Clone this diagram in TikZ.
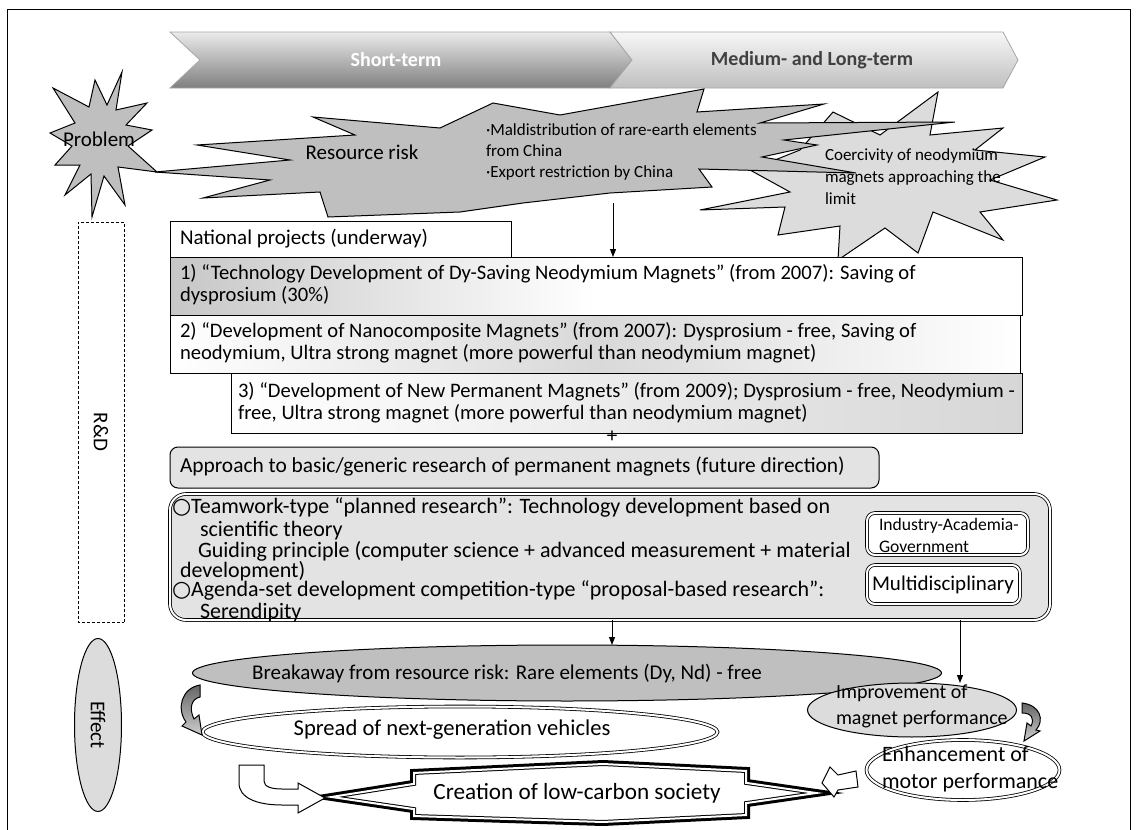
\documentclass[tikz,border=0pt]{standalone}
\usepackage{fontspec}
\setmainfont{Carlito}
\newfontfamily\djv{DejaVu Sans}
\usetikzlibrary{shapes.geometric,fit,arrows.meta}
\definecolor{gA}{HTML}{BFBFBF}
\definecolor{gB}{HTML}{DCDCDC}
\definecolor{gC}{HTML}{E3E3E3}
\newcommand\crpath{(325,797) -- (413,783) -- (413,772) -- (603,763) -- (747,770) -- (747,782) -- (823,793) -- (747,804) -- (747,816) -- (603,823) -- (413,817) -- (413,810) -- cycle}
\begin{document}
\begin{tikzpicture}[x=0.5pt,y=-0.5pt,line width=0.5pt,
 every node/.style={inner sep=0pt,outer sep=0pt},
 mf/.style={font=\fontsize{10.5}{11}\selectfont},
 bf/.style={font=\fontsize{10.3}{11}\selectfont},
 kf/.style={font=\fontsize{11}{12}\selectfont},
 sf/.style={font=\fontsize{8.5}{10.5}\selectfont},
 tl/.style={mf,align=left,anchor=north west},
 rbox/.style={draw,inner sep=0pt},
 arr/.style={-{Triangle[length=4pt,width=3pt]}},
 dbl/.style={draw,double=white,double distance=1pt,line width=0.4pt},
 star/.style={draw,line width=0.5pt,line join=miter},
 bar/.style={draw=black!35,line width=0.4pt},
 bartext/.style={font=\fontsize{10}{12}\selectfont\bfseries}]
\useasboundingbox (0,0) rectangle (1137,830);
\draw (7,830) -- (7,9) -- (1130,9) -- (1130,830);

% time banners
\path[bar,top color=black!8,bottom color=black!50] (170,32) -- (610,32) -- (632,60) -- (610,88) -- (170,88) -- (200,60) -- cycle;
\path[bar,top color=black!3,bottom color=black!25] (610,32) -- (1003,32) -- (1018,60) -- (1003,88) -- (610,88) -- (632,60) -- cycle;
\node[bartext,text=white] (st) at (396,60) {Short-term};
\node[bartext,text=black!75] (mt) at (812,60) {Medium- and Long-term};

% problem star
\path[star,fill=gA] (122,72) -- (116,110) -- (147,103) -- (126,125) -- (152,130) -- (128,146) -- (157,172) -- (118,167) -- (125,205) -- (104,176) -- (92,217) -- (91,174) -- (65,195) -- (80,165) -- (55,165) -- (72,146) -- (50,133) -- (75,123) -- (53,88) -- (89,107) -- (95,80) -- (107,105) -- cycle;
\node[mf] (pb) at (99,139) {Problem};

% coercivity star
\path[star,fill=gB] (938,92) -- (930,135) -- (1003,128) -- (975,150) -- (1045,157) -- (990,180) -- (1057,200) -- (980,212) -- (1003,240) -- (933,212) -- (918,253) -- (885,228) -- (838,260) -- (840,226) -- (778,235) -- (785,207) -- (700,210) -- (790,192) -- (750,170) -- (800,150) -- (833,112) -- (880,135) -- cycle;

% resource risk star
\path[star,fill=gA] (155,172) -- (290,160) -- (197,145) -- (355,135) -- (313,117) -- (440,128) -- (493,103) -- (560,115) -- (704,89) -- (697,112) -- (824,104) -- (760,123) -- (955,122) -- (784,140) -- (817,145) -- (762,157) -- (856,173) -- (699,169) -- (712,187) -- (610,193) -- (523,203) -- (460,212) -- (328,217) -- (320,192) -- (203,198) -- (270,180) -- cycle;
\node[mf] (rrt) at (362,152) {Resource risk};
\node[sf,align=left,anchor=north west] (rrd) at (486,124) {·Maldistribution of rare-earth elements\\from China\\·Export restriction by China};
\node[align=left,anchor=north west,font=\fontsize{8.5}{11}\selectfont] (coe) at (825,149) {Coercivity of neodymium\\magnets approaching the\\limit};

% R&D column
\node[draw,dash pattern=on 1.5pt off 1pt,line width=0.4pt,minimum width=200pt,minimum height=23pt,rotate=-90,mf] (rd) at (101,422) {};
\node[mf,rotate=-90] (rdt) at (101,432) {R\&D};

% national projects
\node[rbox,fill=white,fit={(170,221)(511,257)}] (np) {};
\node[mf,anchor=west] (npt) at (180,239) {National projects (underway)};
\node[rbox,left color=black!22,right color=white,middle color=white,fit={(170,257)(1022,315)}] (b1) {};
\node[tl,bf] (b1t) at (180,264) {1) “Technology Development of Dy-Saving Neodymium Magnets” (from 2007): Saving of\\dysprosium (30\%)};
\node[rbox,left color=white,right color=white,middle color=black!15,fit={(170,315)(1020,373)}] (b2) {};
\node[tl,bf] (b2t) at (180,322) {2) “Development of Nanocomposite Magnets” (from 2007): Dysprosium - free, Saving of\\neodymium, Ultra strong magnet (more powerful than neodymium magnet)};
\node[rbox,left color=white,right color=black!16,fit={(231,373)(1022,433)}] (b3) {};
\node[tl,bf] (b3t) at (238,382) {3) “Development of New Permanent Magnets” (from 2009); Dysprosium - free, Neodymium -\\free, Ultra strong magnet (more powerful than neodymium magnet)};
\coordinate (rr) at (613,203);
\draw[arr] (rr) -- (rr |- b1.north);
\node[mf] (plus) at (612,437) {+};

% basic research
\node[rbox,fill=gC,rounded corners=4pt,fit={(170,447)(879,488)}] (ap) {};
\node[font=\fontsize{10.7}{12}\selectfont,anchor=west] (apt) at (180,467) {Approach to basic/generic research of permanent magnets (future direction)};
\node[dbl,fill=gC,rounded corners=8pt,fit={(170,494)(1050,620)}] (big) {};
\node[tl,kf] (t1) at (172,498) {{\djv ○}Teamwork-type “planned research”: Technology development based on};
\node[tl,kf] (t2) at (200,521) {scientific theory};
\node[tl,kf] (t3) at (198,541) {Guiding principle (computer science + advanced measurement + material};
\node[tl,kf] (t4) at (180,561) {development)};
\node[tl,kf] (t5) at (172,581) {{\djv ○}Agenda-set development competition-type “proposal-based research”:};
\node[tl,kf] (t6) at (200,603) {Serendipity};
\node[dbl,fill=white,rounded corners=4pt,fit={(867,513)(1028,555)}] (iag) {};
\node[align=left,anchor=north west,font=\fontsize{8.8}{11}\selectfont] (iagt) at (879,518) {Industry-Academia-\\Government};
\node[dbl,fill=white,rounded corners=4pt,fit={(867,565)(1020,604)}] (mul) {};
\node[mf] (mult) at (943,585) {Multidisciplinary};

% effects
\node[ellipse,draw,fill=gB,minimum width=86.5pt,minimum height=23.5pt,rotate=-90,mf] (eff) at (98,725) {Effect};
\node[ellipse,draw,fill=gA,minimum width=374.5pt,minimum height=28pt] (brk) at (567,673) {};
\node[mf] (brkt) at (507,674) {Breakaway from resource risk: Rare elements (Dy, Nd) - free};
\node[ellipse,draw,fill=gB,minimum width=104.5pt,minimum height=27pt] (imp) at (912,710) {};
\node[tl,font=\fontsize{10}{13}\selectfont] (impt) at (836,685) {Improvement of\\magnet performance};
\node[ellipse,dbl,fill=white,minimum width=257.5pt,minimum height=25.5pt] (spr) at (460,732) {};
\node[font=\fontsize{11.3}{12}\selectfont] (sprt) at (452,730) {Spread of next-generation vehicles};
\node[ellipse,dbl,fill=white,minimum width=96.5pt,minimum height=30pt] (enh) at (963,770) {};
\node[tl,font=\fontsize{11}{13.5}\selectfont] (enht) at (882,746) {Enhancement of\\motor performance};

\coordinate (d1) at (612,620);
\coordinate (d2) at (960,620);
\draw[arr] (big.south -| d1) -- (brk.north -| d1);
\draw[arr] (big.south -| d2) -- (imp.north -| d2);

% creation of low-carbon society
\fill[white] \crpath;
\draw[line width=3pt,line join=miter] \crpath;
\begin{scope}
\clip \crpath;
\draw[white,line width=2pt] \crpath;
\end{scope}
\node[font=\fontsize{11.6}{12}\selectfont] (cr) at (577,793) {Creation of low-carbon society};

% block arrows
\path[draw,fill=white] (239,765) -- (264,765) -- (264,781) .. controls (264,787) and (272,789) .. (282,789) -- (298,789) -- (298,783) -- (325,798) -- (298,813) -- (298,805) -- (282,805) .. controls (257,805) and (239,798) .. (239,783) -- cycle;
\path[draw,fill=white] (822,783) -- (830,767) -- (838,775) -- (856,771) -- (858,787) -- (838,790) -- (834,797) -- cycle;
\path[draw,top color=black!60,bottom color=black!20] (200,685) .. controls (182,688) and (176,708) .. (186,722) -- (182,726) -- (202,735) -- (199,715) -- (194,719) .. controls (189,709) and (191,699) .. (200,697) -- cycle;
\path[draw,top color=black!60,bottom color=black!20] (1022,703) .. controls (1040,705) and (1045,720) .. (1036,730) -- (1040,731) -- (1024,741) -- (1027,723) -- (1031,726) .. controls (1035,718) and (1031,713) .. (1022,713) -- cycle;
\end{tikzpicture}
\end{document}
